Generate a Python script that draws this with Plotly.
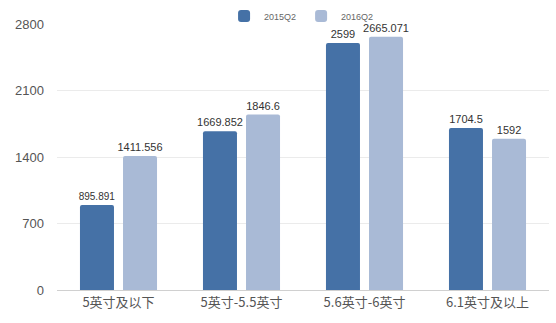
import plotly.graph_objects as go

categories = ["5英寸及以下", "5英寸-5.5英寸", "5.6英寸-6英寸", "6.1英寸及以上"]
series_names = ["2015Q2", "2016Q2"]
values_2015 = [895.891, 1669.852, 2599, 1704.5]
values_2016 = [1411.556, 1846.6, 2665.071, 1592]
labels_2015 = ["895.891", "1669.852", "2599", "1704.5"]
labels_2016 = ["1411.556", "1846.6", "2665.071", "1592"]
y_ticks = [0, 700, 1400, 2100, 2800]

FONT = "Liberation Sans, Noto Sans CJK SC, sans-serif"

fig = go.Figure()
fig.add_trace(go.Bar(
    x=categories, y=values_2015, name=series_names[0],
    marker=dict(color="#4571a6", line=dict(width=0)),
    text=labels_2015, textposition="outside", cliponaxis=False,
    constraintext="none",
    textfont=dict(size=[10, 11, 11, 11], color="#333333", family=FONT),
))
fig.add_trace(go.Bar(
    x=categories, y=values_2016, name=series_names[1],
    marker=dict(color="#a9bad6", line=dict(width=0)),
    text=labels_2016, textposition="outside", cliponaxis=False,
    constraintext="none",
    textfont=dict(size=11, color="#333333", family=FONT),
))

fig.update_layout(
    width=556, height=323,
    margin=dict(l=57, r=7, t=24, b=33, autoexpand=False),
    paper_bgcolor="white", plot_bgcolor="white",
    barmode="group", bargap=0.30, bargroupgap=0.21,
    barcornerradius=2,
    font=dict(family=FONT, color="#555555"),
    legend=dict(
        orientation="h", x=0.403, xref="container", y=1 - 16 / 323,
        yref="container", xanchor="left", yanchor="middle",
        font=dict(size=9, color="#666666", family=FONT),
        bgcolor="rgba(0,0,0,0)", itemwidth=30, tracegroupgap=0,
    ),
    xaxis=dict(
        tickfont=dict(size=13, color="#555555", family="Noto Sans CJK SC"),
        showline=True, linecolor="#d0d0d0", linewidth=1,
        showgrid=False, ticks="",
    ),
    yaxis=dict(
        range=[0, 2800], tickvals=y_ticks,
        tickfont=dict(size=13, color="#555555", family=FONT),
        showgrid=True, gridcolor="#ebebeb", gridwidth=1,
        zeroline=False, showline=False, ticks="", ticklabelstandoff=12,
    ),
)

fig.write_html("out.html")
